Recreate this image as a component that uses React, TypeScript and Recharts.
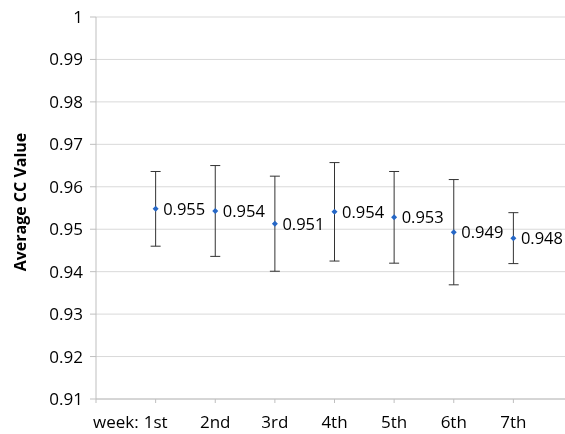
import {
  ComposedChart,
  Scatter,
  ErrorBar,
  XAxis,
  YAxis,
  CartesianGrid,
  LabelList,
  Label,
} from 'recharts';

const weeks = ['1st', '2nd', '3rd', '4th', '5th', '6th', '7th'];
const avgCC = [0.9548, 0.9543, 0.9513, 0.9541, 0.9528, 0.9493, 0.9479];
const ccError = [0.0088, 0.0107, 0.0112, 0.0116, 0.0108, 0.0124, 0.006];
const valueLabels = ['0.955', '0.954', '0.951', '0.954', '0.953', '0.949', '0.948'];
const yTicks = [0.91, 0.92, 0.93, 0.94, 0.95, 0.96, 0.97, 0.98, 0.99, 1];

const FONT = '"Open Sans", sans-serif';

const chartData = weeks.map((w, i) => ({
  x: i + 1,
  week: w,
  value: avgCC[i],
  err: ccError[i],
  label: valueLabels[i],
}));

// small blue diamond marker
const Diamond = (props: any) => {
  const { cx, cy } = props;
  const r = 3;
  return (
    <path
      d={`M${cx},${cy - r}L${cx + r},${cy}L${cx},${cy + r}L${cx - r},${cy}Z`}
      fill="#2667C6"
    />
  );
};

const WeekTick = (props: any) => {
  const { x, y, payload } = props;
  const idx = payload.value - 1;
  if (idx < 0 || idx >= weeks.length) return <g />;
  return (
    <g>
      {idx === 0 && (
        <text x={x - 17} y={y + 23} textAnchor="end" fontSize={17} fontFamily={FONT} fill="#000">
          week:
        </text>
      )}
      <text x={x} y={y + 23} textAnchor="middle" fontSize={17} fontFamily={FONT} fill="#000">
        {weeks[idx]}
      </text>
    </g>
  );
};

export default function App() {
  // pinned to the window so the plot can run past the right edge like the original
  return (
    <div
      style={{ position: 'fixed', left: 0, top: 0, width: 565, height: 434, overflow: 'hidden' }}
    >
      <ComposedChart
        width={573}
        height={434}
        data={chartData}
        margin={{ top: 17, right: 0, left: 0, bottom: 0 }}
      >
        <CartesianGrid vertical={false} stroke="#D9D9D9" />
        <XAxis
          dataKey="x"
          type="number"
          domain={[0, 8]}
          ticks={[0, 1, 2, 3, 4, 5, 6, 7]}
          height={35}
          tickSize={4}
          axisLine={{ stroke: '#BFBFBF' }}
          tickLine={{ stroke: '#BFBFBF' }}
          tick={<WeekTick />}
          interval={0}
        />
        <YAxis
          type="number"
          domain={[0.91, 1]}
          ticks={yTicks}
          width={96}
          tickSize={6}
          axisLine={{ stroke: '#BFBFBF' }}
          tickLine={{ stroke: '#BFBFBF' }}
          tickFormatter={(v) => String(Number(v.toFixed(2)))}
          tick={{ fontSize: 17, fontFamily: FONT, fill: '#000', dx: -5 }}
          allowDataOverflow
        >
          <Label
            content={(p: any) => {
              const vb = p.viewBox;
              const cy = vb.y + vb.height / 2 - 6;
              return (
                <text
                  x={20}
                  y={cy}
                  transform={`rotate(-90, 20, ${cy})`}
                  textAnchor="middle"
                  dominantBaseline="central"
                  fontSize={16}
                  fontWeight="bold"
                  fontFamily={FONT}
                  fill="#000"
                >
                  Average CC Value
                </text>
              );
            }}
          />
        </YAxis>
        <Scatter dataKey="value" shape={<Diamond />} isAnimationActive={false}>
          <ErrorBar dataKey="err" direction="y" width={5} stroke="#333" strokeWidth={1} />
          <LabelList
            dataKey="label"
            position="right"
            offset={3}
            fontSize={16.5}
            fontFamily={FONT}
            fill="#000"
          />
        </Scatter>
      </ComposedChart>
    </div>
  );
}
